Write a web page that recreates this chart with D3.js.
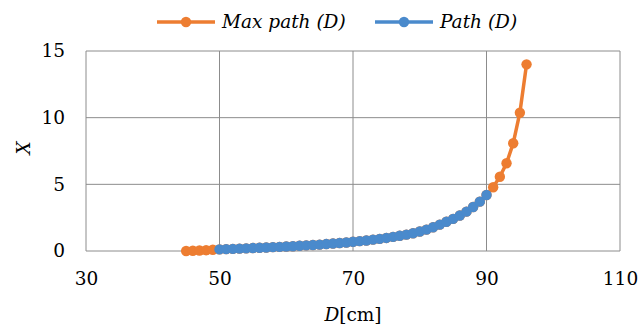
<!DOCTYPE html>
<html>
<head>
<meta charset="utf-8">
<script src="https://cdn.jsdelivr.net/npm/d3@7"></script>
<style>
	body { margin: 0; background: #fff; }
</style>
</head>
<body>
<svg id="chart" width="638" height="329"></svg>
<script>
// D [cm] values for the two series
var maxD = [45, 46, 47, 48, 49, 50, 51, 52, 53, 54, 55, 56, 57, 58, 59, 60, 61, 62, 63, 64, 65,
	66, 67, 68, 69, 70, 71, 72, 73, 74, 75, 76, 77, 78, 79, 80, 81, 82, 83, 84, 85, 86, 87, 88,
	89, 90, 91, 92, 93, 94, 95, 96];
var maxX = [0.0, 0.02, 0.04, 0.06, 0.09, 0.12, 0.14, 0.16, 0.18, 0.20, 0.22, 0.24, 0.26, 0.29,
	0.31, 0.34, 0.36, 0.39, 0.42, 0.45, 0.48, 0.52, 0.56, 0.60, 0.64, 0.69, 0.74, 0.79, 0.85,
	0.91, 0.98, 1.06, 1.14, 1.23, 1.33, 1.46, 1.60, 1.78, 1.98, 2.19, 2.41, 2.66, 2.95, 3.30,
	3.70, 4.20, 4.78, 5.57, 6.58, 8.08, 10.37, 14.0];

var pathD = [50, 51, 52, 53, 54, 55, 56, 57, 58, 59, 60, 61, 62, 63, 64, 65, 66, 67, 68, 69, 70,
	71, 72, 73, 74, 75, 76, 77, 78, 79, 80, 81, 82, 83, 84, 85, 86, 87, 88, 89, 90];
var pathX = [0.12, 0.14, 0.16, 0.18, 0.20, 0.22, 0.24, 0.26, 0.29, 0.31, 0.34, 0.36, 0.39, 0.42,
	0.45, 0.48, 0.52, 0.56, 0.60, 0.64, 0.69, 0.74, 0.79, 0.85, 0.91, 0.98, 1.06, 1.14, 1.23,
	1.33, 1.46, 1.60, 1.78, 1.98, 2.19, 2.41, 2.66, 2.95, 3.30, 3.70, 4.20];

var xTicks = [30, 50, 70, 90, 110];
var yTicks = [0, 5, 10, 15];

var seriesNames = ["Max path (D)", "Path (D)"];
var seriesColors = ["#ED7D31", "#4A8ACC"];

var serif = "DejaVu Serif";

var margin = {left: 86, top: 51, right: 18, bottom: 78};
var width = 638 - margin.left - margin.right;
var height = 329 - margin.top - margin.bottom;

var svg = d3.select("#chart");
var g = svg.append("g")
	.attr("transform", "translate(" + margin.left + "," + margin.top + ")");

var xScale = d3.scaleLinear().domain([30, 110]).range([0, width]);
var yScale = d3.scaleLinear().domain([0, 15]).range([height, 0]);

// grid
g.selectAll(".vgrid").data(xTicks).enter().append("line")
	.attr("x1", function(d){ return xScale(d); })
	.attr("x2", function(d){ return xScale(d); })
	.attr("y1", 0).attr("y2", height)
	.attr("stroke", "#8c8c8c").attr("stroke-width", 1);
g.selectAll(".hgrid").data(yTicks).enter().append("line")
	.attr("y1", function(d){ return yScale(d); })
	.attr("y2", function(d){ return yScale(d); })
	.attr("x1", 0).attr("x2", width)
	.attr("stroke", "#8c8c8c").attr("stroke-width", 1);

// axes
var xAxis = d3.axisBottom(xScale).tickValues(xTicks).tickSize(0).tickPadding(21);
var yAxis = d3.axisLeft(yScale).tickValues(yTicks).tickSize(0).tickPadding(21);

var xg = g.append("g").attr("transform", "translate(0," + height + ")").call(xAxis);
var yg = g.append("g").call(yAxis);
[xg, yg].forEach(function(a){
	a.attr("font-family", serif).attr("font-size", 18.5);
	a.select(".domain").remove();
	a.selectAll("text").attr("fill", "#000");
});

// axis titles
var xt = svg.append("text")
	.attr("x", margin.left + width / 2)
	.attr("y", 321)
	.attr("text-anchor", "middle")
	.attr("font-family", serif)
	.attr("font-size", 18.5);
xt.append("tspan").attr("font-style", "italic").text("D");
xt.append("tspan").text("[cm]");

svg.append("text")
	.attr("transform", "translate(30," + (margin.top + height / 2 - 3) + ") rotate(-90)")
	.attr("text-anchor", "middle")
	.attr("font-family", serif)
	.attr("font-size", 18.5)
	.attr("font-style", "italic")
	.text("X");

// series
var line = d3.line()
	.x(function(d){ return xScale(d[0]); })
	.y(function(d){ return yScale(d[1]); });

var series = [d3.zip(maxD, maxX), d3.zip(pathD, pathX)];

series.forEach(function(data, i){
	var s = g.append("g");
	s.append("path")
		.datum(data)
		.attr("d", line)
		.attr("fill", "none")
		.attr("stroke", seriesColors[i])
		.attr("stroke-width", 3.5);
	s.selectAll("circle").data(data).enter().append("circle")
		.attr("cx", function(d){ return xScale(d[0]); })
		.attr("cy", function(d){ return yScale(d[1]); })
		.attr("r", 5.2)
		.attr("fill", seriesColors[i]);
});

// legend
var legendX = [157, 375];
var legend = svg.selectAll(".legend").data(seriesNames).enter().append("g")
	.attr("transform", function(d, i){ return "translate(" + legendX[i] + ",22)"; });
legend.append("line")
	.attr("x1", 0).attr("x2", 58)
	.attr("stroke", function(d, i){ return seriesColors[i]; })
	.attr("stroke-width", 3.5);
legend.append("circle")
	.attr("cx", 29).attr("r", 5.2)
	.attr("fill", function(d, i){ return seriesColors[i]; });
legend.append("text")
	.attr("x", 65).attr("dy", "0.35em")
	.attr("font-family", serif)
	.attr("font-size", 18.5)
	.attr("font-style", "italic")
	.text(function(d){ return d; });
</script>
</body>
</html>
